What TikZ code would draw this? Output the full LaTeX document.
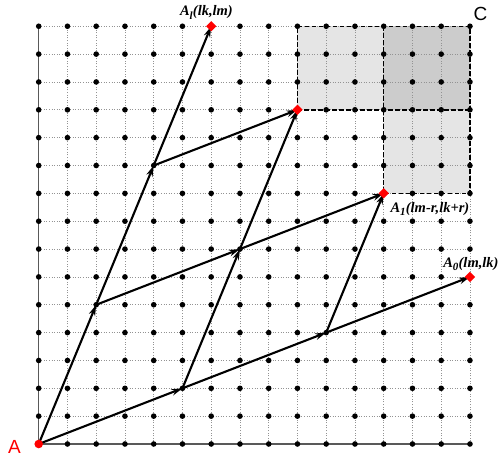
\documentclass[tikz,border=0pt]{standalone}
\usepackage{fontspec}
\setmainfont{Liberation Serif}
\newfontfamily\labsans{Liberation Sans}
\usetikzlibrary{arrows.meta,shapes.geometric}
\newcommand{\subl}[1]{\kern-0.3pt\raisebox{-3.3pt}{\fontsize{11}{11}\selectfont #1}\kern0.3pt}
\begin{document}
\begin{tikzpicture}[x=28.75pt,y=27.85pt,
 gridline/.style={draw=gray!85, line width=0.65pt, dash pattern=on 1pt off 1.6pt},
 axisline/.style={draw=black!65, line width=1.1pt},
 regionedge/.style={draw=black, line width=1.4pt, dash pattern=on 4.5pt off 2.5pt},
 lattice/.style={circle, fill=black, inner sep=0pt, minimum size=5.6pt},
 redmark/.style={diamond, fill=red, inner sep=0pt, minimum width=10.5pt, minimum height=10.5pt},
 origin/.style={circle, fill=red, inner sep=0pt, minimum size=8.6pt},
 vec/.style={draw=black, line width=2.1pt, -{Stealth[length=11pt,width=6.5pt]}},
 lab/.style={font=\fontsize{14.5}{16}\selectfont\bfseries\itshape, inner sep=0pt},
 corner/.style={font=\labsans\fontsize{19}{21}\selectfont, inner sep=0pt}]
\useasboundingbox (-38.7pt,-15pt) rectangle (464.3pt,444pt);
% shaded regions
\fill[gray!20] (9,12) rectangle (15,15);
\fill[gray!20] (12,9) rectangle (15,12);
\fill[gray!40] (12,12) rectangle (15,15);
% grid
\foreach \k in {1,...,15} {
  \draw[gridline] (\k,0) -- (\k,15);
  \draw[gridline] (0,\k) -- (15,\k);
}
\draw[axisline] (0,15) -- (0,0) -- (15,0);
% dashed outlines
\draw[regionedge] (9,12) -- (9,15) -- (15,15) -- (15,9) -- (12,9) -- (12,15);
\draw[regionedge] (9,12) -- (15,12);
% lattice dots
\foreach \i in {0,...,15} {
  \foreach \j in {0,...,15} {
    \node[lattice] (d\i-\j) at (\i,\j) {};
  }
}
% lattice points
\coordinate (A) at (0,0);
\coordinate (U1) at (5,2);
\coordinate (U2) at (10,4);
\coordinate (U3) at (15,6);
\coordinate (V1) at (2,5);
\coordinate (V2) at (4,10);
\coordinate (V3) at (6,15);
\coordinate (W11) at (7,7);
\coordinate (W21) at (12,9);
\coordinate (W12) at (9,12);
% vectors
\draw[vec] (A) -- (U1);
\draw[vec] (U1) -- (U2);
\draw[vec] (U2) -- (U3);
\draw[vec] (A) -- (V1);
\draw[vec] (V1) -- (V2);
\draw[vec] (V2) -- (V3);
\draw[vec] (V1) -- (W11);
\draw[vec] (W11) -- (W21);
\draw[vec] (U1) -- (W11);
\draw[vec] (W11) -- (W12);
\draw[vec] (V2) -- (W12);
\draw[vec] (U2) -- (W21);
% markers
\node[origin] (mA) at (A) {};
\node[redmark] (mV3) at (V3) {};
\node[redmark] (mW12) at (W12) {};
\node[redmark] (mW21) at (W21) {};
\node[redmark] (mU3) at (U3) {};
% labels
\node[lab] (lAl) at (167.8pt,431.5pt) {A\subl{l}(lk,lm)};
\node[lab] (lA1) at (391.3pt,235pt) {A\subl{1}(lm-r,lk+r)};
\node[lab] (lA0) at (432.3pt,180pt) {A\subl{0}(lm,lk)};
\node[corner, text=red] (lA) at (-24.2pt,-3pt) {A};
\node[corner] (lC) at (441.8pt,430pt) {C};
\end{tikzpicture}
\end{document}
